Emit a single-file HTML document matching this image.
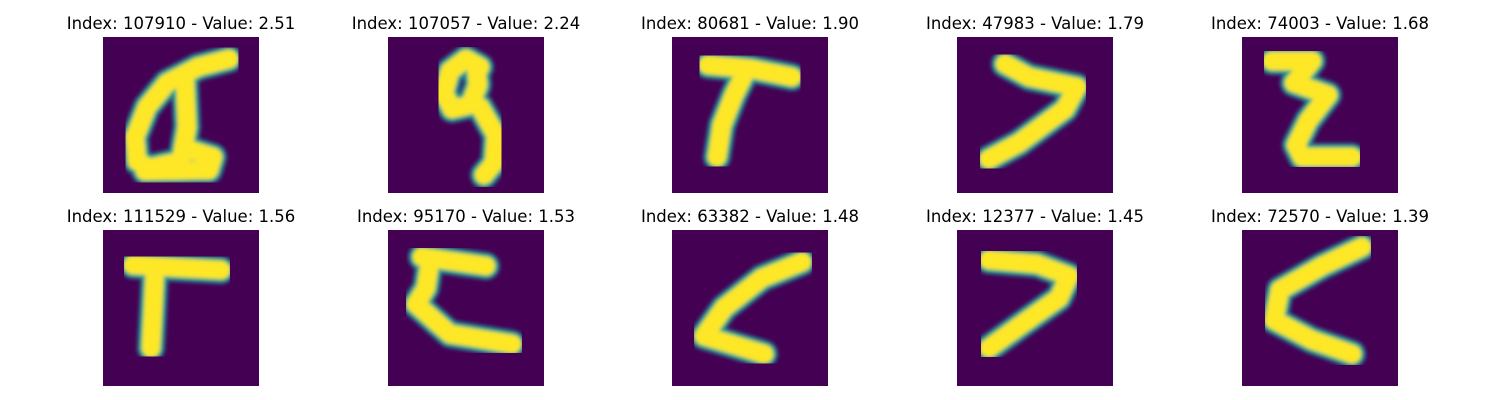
<!DOCTYPE html>
<html><head><meta charset="utf-8"><style>
html,body{margin:0;padding:0;background:#fff;}
svg{display:block;}
text{font-family:"DejaVu Sans","Liberation Sans",sans-serif;font-size:16.5px;fill:#000;}
</style></head><body>
<svg id="fig" width="1500" height="400" viewBox="0 0 1500 400" xmlns="http://www.w3.org/2000/svg">
<defs><filter id="soft" x="-10%" y="-10%" width="120%" height="120%"><feGaussianBlur stdDeviation="1.8"/></filter></defs>
</svg>
<script>
const indices=[107910,107057,80681,47983,74003,111529,95170,63382,12377,72570];
const values=[2.51,2.24,1.90,1.79,1.68,1.56,1.53,1.48,1.45,1.39];
const strokes=[
 ["M126,22 L95,30 L64,46 L44,70 L32,100 L34,124 L46,131 L78,124 L84,90 L82,44","M84,112 L110,120 L106,133 L42,134"],
 ["M92,30 L78,22 L62,34 L56,56 L64,72 L82,68 L90,48 L88,30","M92,70 L108,98 L106,126 L96,138"],
 ["M36,28 L80,32 L120,40","M74,34 L62,58 L50,88 L45,120"],
 ["M48,27 L72,40 L120,50 L108,72 L62,106 L32,122"],
 ["M30,24 L70,24 L52,46 L86,58 L66,84 L54,108 L60,120 L110,120"],
 ["M30,35 L80,38 L118,40","M52,38 L50,80 L48,118"],
 ["M34,27 L98,36","M42,32 L38,58 L28,74 L46,90 L62,104 L124,114"],
 ["M130,32 L90,48 L52,78 L32,106 L92,124"],
 ["M32,30 L80,34 L112,46 L102,68 L68,92 L32,118"],
 ["M120,17 L80,36 L38,60 L32,90 L70,110 L110,124"]
];
const svg=document.getElementById('fig');
const NS='http://www.w3.org/2000/svg';
const colX=[103,388,672,957,1242];
const rowY=[37,230];
const layers=[[28,'#2c728e'],[23,'#27ad81'],[18,'#fde725']];
for(let i=0;i<indices.length;i++){
  const x=colX[i%5], y=rowY[Math.floor(i/5)];
  const g=document.createElementNS(NS,'g');
  
  
  const t=document.createElementNS(NS,'text');
  
  
  t.setAttribute('x',x+78);t.setAttribute('y',y-8);t.setAttribute('text-anchor','middle');
  t.textContent='Index: '+indices[i]+' - Value: '+values[i].toFixed(2);
  g.appendChild(t);
  const r=document.createElementNS(NS,'rect');
  
  
  r.setAttribute('x',x);r.setAttribute('y',y);r.setAttribute('width',156);r.setAttribute('height',156);r.setAttribute('fill','#440154');
  g.appendChild(r);
  const sg=document.createElementNS(NS,'g');
  sg.setAttribute('transform','translate('+x+','+y+')');
  sg.setAttribute('filter','url(#soft)');
  for(const [w,c] of layers){
    for(const d of strokes[i]){
      const p=document.createElementNS(NS,'path');
      
      
      p.setAttribute('d',d);p.setAttribute('fill','none');p.setAttribute('stroke',c);
      p.setAttribute('stroke-width',w);p.setAttribute('stroke-linecap','round');p.setAttribute('stroke-linejoin','round');
      sg.appendChild(p);
    }
  }
  g.appendChild(sg);
  svg.appendChild(g);
}
</script>
</body></html>
